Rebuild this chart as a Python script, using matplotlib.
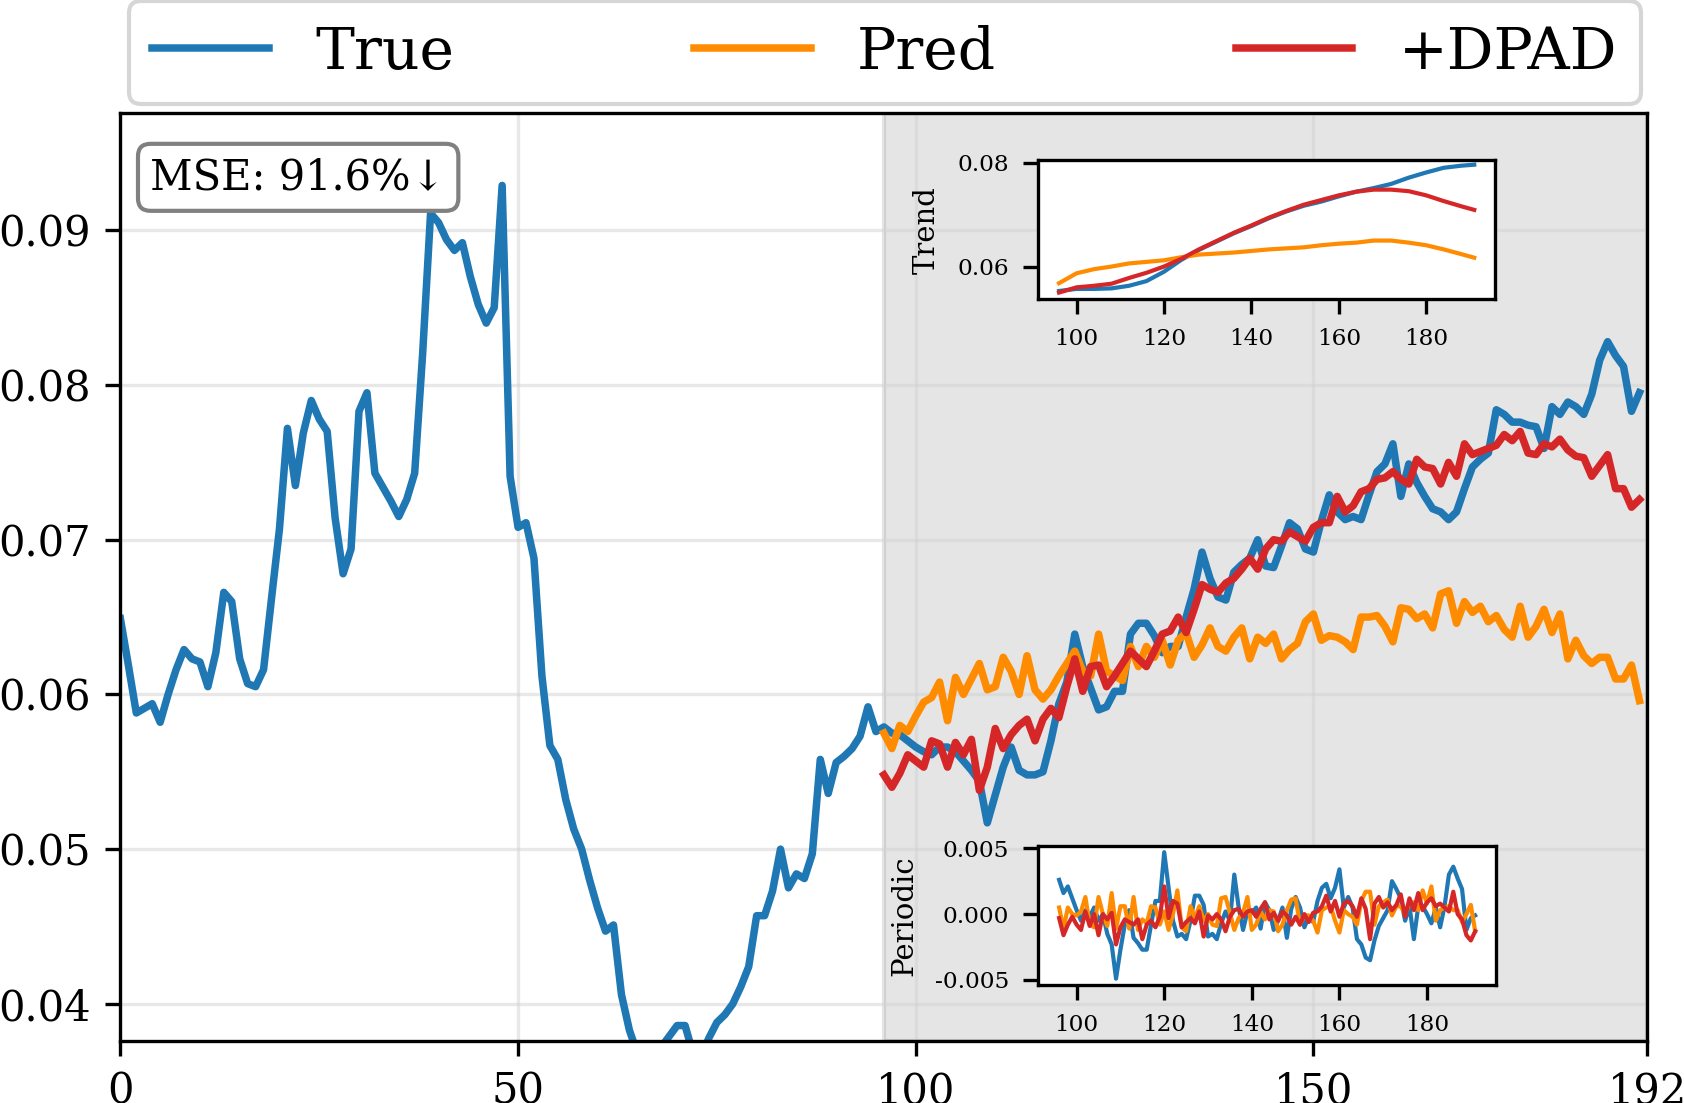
import numpy as np
import matplotlib
matplotlib.use('Agg')
import matplotlib.pyplot as plt

plt.rcParams['font.family'] = ['DejaVu Serif', 'DejaVu Sans']
plt.rcParams['axes.unicode_minus'] = False

# ---------------- data ----------------
true_vals = [
    0.0649, 0.0619, 0.0588, 0.0591, 0.0594, 0.0582, 0.0600, 0.0616, 0.0629, 0.0623,
    0.0621, 0.0605, 0.0627, 0.0666, 0.0660, 0.0623, 0.0607, 0.0605, 0.0616, 0.0662,
    0.0707, 0.0772, 0.0735, 0.0769, 0.0790, 0.0778, 0.0770, 0.0714, 0.0678, 0.0694,
    0.0783, 0.0795, 0.0743, 0.0734, 0.0725, 0.0715, 0.0726, 0.0743, 0.0820, 0.0911,
    0.0905, 0.0894, 0.0887, 0.0892, 0.0870, 0.0852, 0.0840, 0.0850, 0.0929, 0.0741,
    0.0708, 0.0711, 0.0688, 0.0612, 0.0567, 0.0558, 0.0532, 0.0513, 0.0500, 0.0480,
    0.0462, 0.0447, 0.0451, 0.0406, 0.0383, 0.0368, 0.0362, 0.0365, 0.0372, 0.0379,
    0.0386, 0.0386, 0.0368, 0.0366, 0.0378, 0.0388, 0.0393, 0.0400, 0.0411, 0.0424,
    0.0457, 0.0457, 0.0473, 0.0500, 0.0475, 0.0484, 0.0481, 0.0497, 0.0558, 0.0536,
    0.0556, 0.0560, 0.0565, 0.0573, 0.0592, 0.0576, 0.0579, 0.0575, 0.0574, 0.0570,
    0.0566, 0.0563, 0.0561, 0.0566, 0.0566, 0.0563, 0.0557, 0.0551, 0.0544, 0.0517,
    0.0535, 0.0553, 0.0566, 0.0551, 0.0548, 0.0548, 0.0550, 0.0570, 0.0594, 0.0608,
    0.0639, 0.0618, 0.0604, 0.0590, 0.0592, 0.0602, 0.0602, 0.0639, 0.0646, 0.0646,
    0.0638, 0.0627, 0.0631, 0.0631, 0.0650, 0.0668, 0.0692, 0.0675, 0.0663, 0.0661,
    0.0679, 0.0684, 0.0688, 0.0700, 0.0683, 0.0682, 0.0696, 0.0711, 0.0707, 0.0694,
    0.0692, 0.0712, 0.0729, 0.0718, 0.0713, 0.0715, 0.0713, 0.0729, 0.0744, 0.0749,
    0.0762, 0.0728, 0.0749, 0.0737, 0.0728, 0.0720, 0.0718, 0.0713, 0.0718, 0.0733,
    0.0747, 0.0752, 0.0756, 0.0784, 0.0781, 0.0776, 0.0776, 0.0774, 0.0773, 0.0759,
    0.0786, 0.0781, 0.0789, 0.0786, 0.0781, 0.0794, 0.0816, 0.0828, 0.0819, 0.0812,
    0.0783, 0.0795,
]

pred_vals = [
    0.0575, 0.0565, 0.0580, 0.0576, 0.0586, 0.0595, 0.0598, 0.0608, 0.0583, 0.0611,
    0.0600, 0.0610, 0.0620, 0.0603, 0.0605, 0.0624, 0.0615, 0.0600, 0.0625, 0.0603,
    0.0597, 0.0603, 0.0612, 0.0620, 0.0628, 0.0615, 0.0612, 0.0639, 0.0615, 0.0612,
    0.0609, 0.0631, 0.0618, 0.0631, 0.0624, 0.0635, 0.0619, 0.0635, 0.0640, 0.0624,
    0.0632, 0.0643, 0.0631, 0.0628, 0.0637, 0.0643, 0.0623, 0.0637, 0.0633, 0.0639,
    0.0623, 0.0629, 0.0633, 0.0647, 0.0652, 0.0635, 0.0638, 0.0637, 0.0634, 0.0629,
    0.0650, 0.0650, 0.0651, 0.0644, 0.0634, 0.0656, 0.0655, 0.0649, 0.0652, 0.0643,
    0.0665, 0.0667, 0.0646, 0.0660, 0.0653, 0.0657, 0.0647, 0.0651, 0.0642, 0.0637,
    0.0657, 0.0637, 0.0644, 0.0655, 0.0640, 0.0652, 0.0623, 0.0635, 0.0625, 0.0620,
    0.0624, 0.0624, 0.0610, 0.0610, 0.0619, 0.0596,
]

dpad_vals = [
    0.0548, 0.0540, 0.0549, 0.0561, 0.0557, 0.0553, 0.0570, 0.0568, 0.0553, 0.0569,
    0.0561, 0.0571, 0.0538, 0.0553, 0.0578, 0.0565, 0.0574, 0.0580, 0.0584, 0.0570,
    0.0584, 0.0591, 0.0585, 0.0605, 0.0623, 0.0602, 0.0618, 0.0619, 0.0605, 0.0612,
    0.0620, 0.0628, 0.0623, 0.0618, 0.0628, 0.0639, 0.0641, 0.0650, 0.0640, 0.0655,
    0.0671, 0.0668, 0.0666, 0.0672, 0.0675, 0.0681, 0.0688, 0.0681, 0.0694, 0.0700,
    0.0699, 0.0705, 0.0702, 0.0699, 0.0708, 0.0711, 0.0711, 0.0728, 0.0718, 0.0722,
    0.0731, 0.0733, 0.0739, 0.0740, 0.0744, 0.0739, 0.0736, 0.0752, 0.0747, 0.0746,
    0.0736, 0.0750, 0.0741, 0.0762, 0.0755, 0.0757, 0.0759, 0.0761, 0.0768, 0.0764,
    0.0770, 0.0756, 0.0755, 0.0762, 0.0760, 0.0765, 0.0758, 0.0754, 0.0753, 0.0741,
    0.0748, 0.0755, 0.0733, 0.0733, 0.0721, 0.0726,
]

trend_x = [96, 100, 104, 108, 112, 116, 120, 124, 128, 132, 136, 140, 144,
           148, 152, 156, 160, 164, 168, 172, 176, 180, 184, 188, 191]
trend_true = [0.0553, 0.0557, 0.0557, 0.0558, 0.0563, 0.0572, 0.0590, 0.0613,
              0.0632, 0.0648, 0.0664, 0.0678, 0.0693, 0.0706, 0.0717, 0.0725,
              0.0735, 0.0744, 0.0751, 0.0759, 0.0771, 0.0781, 0.0790, 0.0794, 0.0796]
trend_pred = [0.0568, 0.0587, 0.0595, 0.0600, 0.0606, 0.0609, 0.0612, 0.0618,
              0.0623, 0.0625, 0.0627, 0.0630, 0.0633, 0.0635, 0.0637, 0.0641,
              0.0644, 0.0646, 0.0650, 0.0650, 0.0646, 0.0641, 0.0633, 0.0624, 0.0617]
trend_dpad = [0.0550, 0.0560, 0.0563, 0.0567, 0.0578, 0.0588, 0.0600, 0.0615,
              0.0633, 0.0649, 0.0665, 0.0679, 0.0694, 0.0707, 0.0719, 0.0728,
              0.0737, 0.0744, 0.0748, 0.0748, 0.0745, 0.0737, 0.0726, 0.0716, 0.0709]

periodic_true = [
    0.0026, 0.0016, 0.0021, 0.0012, 0.0003, -0.0005, 0.0003, -0.0002, 0.0005, -0.0005,
    0.0000, -0.0015, -0.0023, -0.0049, -0.0027, -0.0008, 0.0003, -0.0018, -0.0022, -0.0027,
    -0.0027, -0.0008, 0.0010, 0.0010, 0.0047, 0.0020, -0.0005, -0.0017, -0.0015, -0.0019,
    -0.0005, 0.0014, 0.0014, 0.0007, -0.0017, -0.0015, -0.0019, -0.0007, 0.0002, -0.0005,
    0.0030, 0.0005, -0.0012, 0.0002, 0.0001, 0.0005, -0.0011, 0.0009, 0.0003, -0.0012,
    -0.0005, 0.0005, -0.0018, 0.0004, 0.0013, 0.0005, -0.0010, -0.0002, -0.0006, 0.0010,
    0.0020, 0.0023, 0.0012, 0.0020, 0.0034, 0.0005, 0.0013, 0.0005, -0.0019, -0.0023,
    -0.0033, -0.0035, -0.0020, -0.0009, -0.0003, 0.0003, 0.0025, 0.0019, 0.0012, -0.0005,
    0.0006, -0.0019, 0.0006, 0.0006, 0.0000, -0.0007, 0.0005, -0.0010, 0.0006, 0.0030,
    0.0036, 0.0027, 0.0019, -0.0012, -0.0003, -0.0001,
]
periodic_pred = [
    0.0005, -0.0011, 0.0005, 0.0000, -0.0001, 0.0002, 0.0013, -0.0008, -0.0010, 0.0013,
    0.0000, -0.0009, 0.0016, -0.0011, 0.0006, 0.0006, -0.0011, 0.0013, -0.0012, -0.0004,
    -0.0007, 0.0006, 0.0005, -0.0008, 0.0002, -0.0012, 0.0000, 0.0018, -0.0010, -0.0013,
    0.0006, -0.0003, 0.0006, -0.0005, 0.0000, -0.0008, -0.0009, 0.0012, 0.0013, 0.0001,
    -0.0012, -0.0003, 0.0001, 0.0013, -0.0012, -0.0008, 0.0002, -0.0004, 0.0003, 0.0002,
    -0.0013, -0.0008, 0.0003, 0.0011, 0.0012, -0.0008, -0.0001, -0.0001, -0.0005, -0.0014,
    0.0003, 0.0005, 0.0006, -0.0005, -0.0014, 0.0003, 0.0000, -0.0002, -0.0008, 0.0010,
    0.0017, 0.0017, -0.0008, 0.0006, 0.0009, 0.0011, -0.0001, 0.0006, 0.0006, 0.0000,
    0.0008, 0.0009, 0.0003, 0.0018, 0.0008, 0.0021, -0.0005, 0.0003, 0.0005, 0.0006,
    0.0003, 0.0003, -0.0006, 0.0000, 0.0007, -0.0013,
]
periodic_dpad = [
    -0.0003, -0.0016, -0.0008, -0.0002, -0.0008, -0.0012, 0.0002, -0.0009, 0.0000, -0.0016,
    0.0000, -0.0004, 0.0001, -0.0023, -0.0010, -0.0004, -0.0006, -0.0008, -0.0004, -0.0019,
    -0.0008, -0.0005, -0.0010, -0.0002, 0.0021, -0.0003, 0.0010, 0.0008, -0.0010, -0.0006,
    -0.0003, -0.0007, 0.0002, -0.0017, -0.0001, -0.0004, 0.0000, -0.0004, -0.0013, -0.0002,
    0.0003, 0.0004, -0.0002, 0.0002, 0.0003, -0.0002, 0.0004, 0.0009, -0.0004, 0.0001,
    -0.0005, 0.0002, -0.0001, -0.0008, -0.0002, -0.0008, 0.0000, -0.0006, 0.0001, 0.0002,
    0.0006, 0.0014, 0.0002, 0.0010, -0.0002, 0.0008, 0.0010, 0.0006, -0.0002, 0.0012,
    0.0004, -0.0019, 0.0008, 0.0013, 0.0005, 0.0009, 0.0003, 0.0007, 0.0015, -0.0002,
    0.0012, 0.0003, 0.0016, 0.0003, 0.0009, 0.0012, 0.0006, 0.0008, 0.0005, 0.0002,
    0.0017, 0.0000, -0.0004, -0.0016, -0.0020, -0.0013,
]

labels = ['True', 'Pred', '+DPAD']
colors = ['#1f77b4', '#ff8c00', '#d62728']
main_xticks = [0, 50, 100, 150, 192]
main_yticks = [0.04, 0.05, 0.06, 0.07, 0.08, 0.09]
inset_xticks = [100, 120, 140, 160, 180]
trend_yticks = [0.06, 0.08]
periodic_yticks = [-0.005, 0.0, 0.005]
mse_text = 'MSE: 91.6%↓'

# ---------------- figure ----------------
W, H, DPI = 1685, 1103, 300
fig = plt.figure(figsize=(W / DPI, H / DPI), dpi=DPI)

ax = fig.add_axes([120.4 / W, 1 - 1041 / H, (1647.4 - 120.4) / W, (1041 - 112.7) / H])

x_true = np.arange(len(true_vals))
x_fut = np.arange(96, 96 + len(pred_vals))

ax.axvspan(96, 192, color='gray', alpha=0.2, lw=1.0)
ax.grid(True, color='lightgray', alpha=0.5, lw=0.8)

ax.plot(x_true, true_vals, color=colors[0], lw=1.8, label=labels[0])
ax.plot(x_fut, pred_vals, color=colors[1], lw=1.8, label=labels[1])
ax.plot(x_fut, dpad_vals, color=colors[2], lw=1.8, label=labels[2])

ax.set_xlim(0, 192)
ax.set_ylim(0.0376, 0.0976)
ax.set_xticks(main_xticks)
ax.set_yticks(main_yticks)
ax.set_yticklabels([f'{v:.2f}' for v in main_yticks])
ax.tick_params(labelsize=10)

leg = ax.legend(loc='lower left', bbox_to_anchor=(0.0056, 1.0094, 0.990, 0.1),
                mode='expand', ncol=3, fontsize=14, borderaxespad=0)

ax.text(0.0197, 0.953, mse_text, transform=ax.transAxes, fontsize=10,
        va='top', ha='left',
        bbox=dict(boxstyle='round,pad=0.3', facecolor='white', edgecolor='gray', lw=1.0))

# Trend inset
ax_t = fig.add_axes([1038.3 / W, 1 - 299.3 / H, (1495 - 1038.3) / W, (299.3 - 160) / H])
ax_t.set_facecolor('white')
ax_t.plot(trend_x, trend_true, color=colors[0], lw=1.0)
ax_t.plot(trend_x, trend_pred, color=colors[1], lw=1.0)
ax_t.plot(trend_x, trend_dpad, color=colors[2], lw=1.0)
ax_t.set_xlim(91.25, 195.75)
ax_t.set_ylim(0.0537, 0.0805)
ax_t.set_xticks(inset_xticks)
ax_t.set_yticks(trend_yticks)
ax_t.set_yticklabels([f'{v:.2f}' for v in trend_yticks])
ax_t.tick_params(labelsize=5.6)
ax_t.set_ylabel('Trend', fontsize=7)

# Periodic inset
ax_p = fig.add_axes([1038.3 / W, 1 - 985 / H, (1496 - 1038.3) / W, (985 - 846) / H])
ax_p.set_facecolor('white')
ax_p.plot(x_fut, periodic_true, color=colors[0], lw=1.0)
ax_p.plot(x_fut, periodic_pred, color=colors[1], lw=1.0)
ax_p.plot(x_fut, periodic_dpad, color=colors[2], lw=1.0)
ax_p.set_xlim(91.25, 195.75)
ax_p.set_ylim(-0.00538, 0.00517)
ax_p.set_xticks(inset_xticks)
ax_p.set_yticks(periodic_yticks)
ax_p.set_yticklabels([f'{v:.3f}' for v in periodic_yticks])
ax_p.tick_params(labelsize=5.6)
ax_p.set_ylabel('Periodic', fontsize=7)

fig.savefig('out.png', dpi=DPI)
